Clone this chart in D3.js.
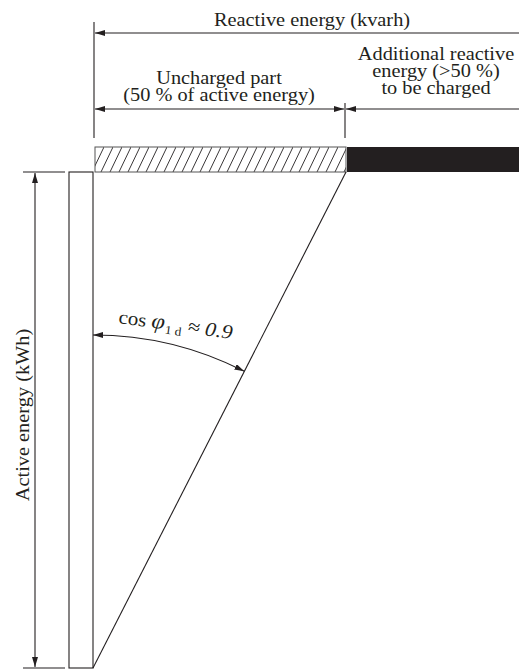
<!DOCTYPE html>
<html>
<head>
<meta charset="utf-8">
<script src="https://cdn.jsdelivr.net/npm/d3@7/dist/d3.min.js"></script>
<style>
  html, body { margin: 0; padding: 0; background: #fff; }
  svg { display: block; }
  text { font-family: "Liberation Serif", "Times New Roman", serif; fill: #231f20; }
</style>
</head>
<body>
<svg id="chart" width="519" height="670"></svg>
<script>
// ---- data ----
const activeEnergy = [100];                 // kWh (normalised)
const reactiveParts = [50, 34.5];           // uncharged part, additional part (kvarh)
const partNames = ["uncharged", "charged"];
const titleTop = ["Reactive energy (kvarh)"];
const unchargedLabel = ["Uncharged part", "(50 % of active energy)"];
const chargedLabel = ["Additional reactive", "energy (>50 %)", "to be charged"];
const activeLabel = ["Active energy (kWh)"];
const cosLabel = ["cos ", "φ", "1 d", " ≈ 0.9"];

const ink = "#231f20";
const svg = d3.select("#chart");

// ---- scales ----
const x = d3.scaleLinear().domain([0, reactiveParts[0]]).range([94, 346]);
const y = d3.scaleLinear().domain([0, activeEnergy[0]]).range([668, 172]);

// ---- defs: hatch pattern and arrowheads ----
const defs = svg.append("defs");
const pat = defs.append("pattern")
  .attr("id", "hatch").attr("patternUnits", "userSpaceOnUse")
  .attr("width", 9).attr("height", 25)
  .attr("x", x(0) + 1).attr("y", 147);
pat.append("rect").attr("width", 9).attr("height", 25).attr("fill", "#fff");
pat.append("line").attr("x1", -3).attr("y1", 25).attr("x2", 9).attr("y2", 0)
  .attr("stroke", ink).attr("stroke-width", 0.9);
pat.append("line").attr("x1", 6).attr("y1", 25).attr("x2", 18).attr("y2", 0)
  .attr("stroke", ink).attr("stroke-width", 0.9);

function marker(id) {
  defs.append("marker").attr("id", id)
    .attr("viewBox", "0 0 10 6").attr("refX", 10).attr("refY", 3)
    .attr("markerWidth", 10).attr("markerHeight", 6)
    .attr("markerUnits", "userSpaceOnUse").attr("orient", "auto-start-reverse")
    .append("path").attr("d", "M0,0 L10,3 L0,6 Z").attr("fill", ink);
}
marker("arr");

const xEnd = x(reactiveParts[0] + reactiveParts[1]);

// ---- reactive bars ----
const starts = [0, reactiveParts[0]];
svg.selectAll("rect.part").data(reactiveParts).join("rect")
  .attr("class", "part")
  .attr("x", (d, i) => x(starts[i]) + 1)
  .attr("y", 147)
  .attr("width", (d, i) => x(starts[i] + d) - x(starts[i]) - (i === 0 ? 1 : 0))
  .attr("height", 25)
  .attr("fill", (d, i) => partNames[i] === "uncharged" ? "url(#hatch)" : ink)
  .attr("stroke", (d, i) => i === 0 ? "#555" : "none")
  .attr("stroke-width", 1);

// ---- active bar ----
svg.append("rect")
  .attr("x", x(0) - 25).attr("y", y(activeEnergy[0]))
  .attr("width", 24).attr("height", y(0) - y(activeEnergy[0]))
  .attr("fill", "#fff").attr("stroke", ink).attr("stroke-width", 1.1);

// ---- hypotenuse ----
svg.append("line")
  .attr("x1", x(0) - 1).attr("y1", y(0))
  .attr("x2", x(reactiveParts[0])).attr("y2", y(activeEnergy[0]))
  .attr("stroke", ink).attr("stroke-width", 1.1);

// ---- extension lines ----
const ext = svg.append("g").attr("stroke", ink).attr("stroke-width", 1.1);
ext.append("line").attr("x1", x(0)).attr("x2", x(0)).attr("y1", 22).attr("y2", 138);
ext.append("line").attr("x1", x(reactiveParts[0]) - 1).attr("x2", x(reactiveParts[0]) - 1).attr("y1", 103).attr("y2", 138);
ext.append("line").attr("x1", 23).attr("x2", 65).attr("y1", y(activeEnergy[0])).attr("y2", y(activeEnergy[0]));
ext.append("line").attr("x1", 23).attr("x2", 65).attr("y1", y(0)).attr("y2", y(0));

// ---- dimension arrows ----
const dim = svg.append("g").attr("stroke", ink).attr("stroke-width", 1.1).attr("fill", "none");
dim.append("line").attr("x1", xEnd).attr("y1", 33).attr("x2", x(0) + 1).attr("y2", 33)
  .attr("marker-end", "url(#arr)");
dim.append("line").attr("x1", x(0) + 1).attr("y1", 109).attr("x2", x(reactiveParts[0]) - 2).attr("y2", 109)
  .attr("marker-start", "url(#arr)").attr("marker-end", "url(#arr)");
dim.append("line").attr("x1", xEnd).attr("y1", 109).attr("x2", x(reactiveParts[0])).attr("y2", 109)
  .attr("marker-end", "url(#arr)");
dim.append("line").attr("x1", 35).attr("y1", y(activeEnergy[0]) + 1).attr("x2", 35).attr("y2", y(0) - 1)
  .attr("marker-start", "url(#arr)").attr("marker-end", "url(#arr)");

// ---- angle arc ----
const cx = x(0) - 1, cy = y(0);
const hx = x(reactiveParts[0]) - cx, hy = y(activeEnergy[0]) - cy;
const phi = Math.atan2(hx, -hy); // angle from vertical
const R = 333;
const arcPath = d3.path();
arcPath.moveTo(cx, cy - R);
arcPath.arc(cx, cy, R, -Math.PI / 2, -Math.PI / 2 + phi, false);
svg.append("path").attr("d", arcPath.toString())
  .attr("fill", "none").attr("stroke", ink).attr("stroke-width", 1.1)
  .attr("marker-start", "url(#arr)").attr("marker-end", "url(#arr)");

// ---- texts (slightly wide serif, as in the reference) ----
const fs = 18.5, sx = 1.1;
function label(g, tx, ty, rot, str) {
  return g.append("text")
    .attr("transform", `translate(${tx},${ty}) rotate(${rot}) scale(${sx},1)`)
    .attr("text-anchor", "middle").attr("font-size", fs).text(str);
}
label(svg, 312, 26, 0, titleTop[0]);
unchargedLabel.forEach((s, i) => label(svg, 219, 84 + i * 16.5, 0, s));
chargedLabel.forEach((s, i) => label(svg, 436, 60 + i * 16.8, 0, s));
label(svg, 29, 415, -90, activeLabel[0]);

const ct = svg.append("text").attr("transform", "translate(118,323) rotate(8) scale(1.1,1)")
  .attr("font-size", 19);
ct.append("tspan").text(cosLabel[0]);
ct.append("tspan").attr("font-style", "italic").attr("font-size", 22).text(cosLabel[1]);
ct.append("tspan").attr("font-size", 12).attr("dy", 4).attr("dx", 1).text(cosLabel[2]);
ct.append("tspan").attr("font-style", "italic").attr("font-size", 20).attr("dy", -4).text(cosLabel[3]);
</script>
</body>
</html>
